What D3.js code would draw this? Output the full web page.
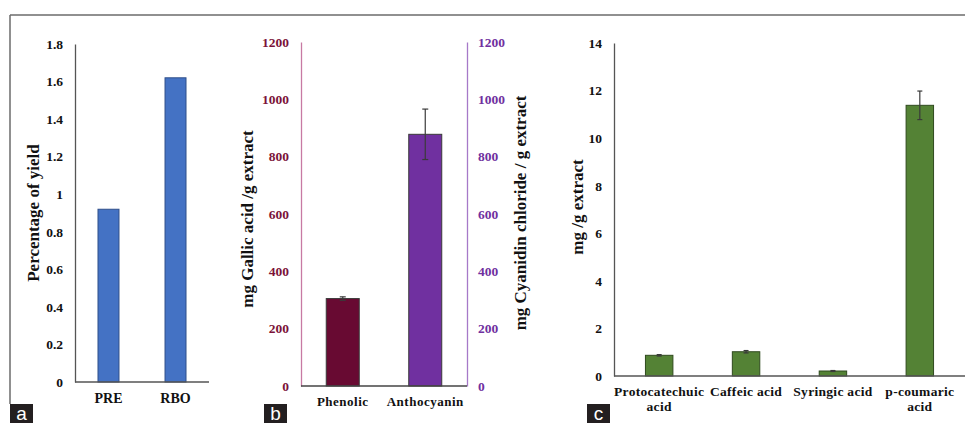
<!DOCTYPE html>
<html>
<head>
<meta charset="utf-8">
<script src="https://cdn.jsdelivr.net/npm/d3@7"></script>
<style>
  html, body { margin: 0; padding: 0; background: #fff; }
  svg { display: block; }
</style>
</head>
<body>
<svg id="chart" width="965" height="423"></svg>
<script>
// Panel a: extraction yield
const yieldCategories = ["PRE", "RBO"];
const yieldValues = [0.92, 1.62];
const yieldTicks = [0, 0.2, 0.4, 0.6, 0.8, 1, 1.2, 1.4, 1.6, 1.8];

// Panel b: total phenolic and anthocyanin content
const contentCategories = ["Phenolic", "Anthocyanin"];
const contentValues = [305, 878];
const contentErrors = [6, 88];
const contentTicks = [0, 200, 400, 600, 800, 1000, 1200];

// Panel c: phenolic acids
const acidCategories = [["Protocatechuic", "acid"], ["Caffeic acid"], ["Syringic acid"], ["p-coumaric", "acid"]];
const acidValues = [0.87, 1.02, 0.21, 11.38];
const acidErrors = [0.03, 0.05, 0.02, 0.6];
const acidTicks = [0, 2, 4, 6, 8, 10, 12, 14];

const SERIF = '"Liberation Serif", "Times New Roman", serif';
const svg = d3.select("#chart");

// serif bold text helper
function serif(sel, size) {
  return sel.style("font-family", SERIF).style("font-weight", "bold").style("font-size", size + "px");
}

// outer frame (top and left edges)
svg.append("line").attr("x1", 10).attr("x2", 965).attr("y1", 15).attr("y2", 15)
  .attr("stroke", "#6b6b6b").attr("stroke-width", 1.5);
svg.append("line").attr("x1", 10).attr("x2", 10).attr("y1", 15).attr("y2", 404)
  .attr("stroke", "#6b6b6b").attr("stroke-width", 1.5);

function yAxisLeft(g, y, ticks, fmt, color, lineColor) {
  g.call(d3.axisLeft(y).tickValues(ticks).tickFormat(fmt).tickSize(0).tickPadding(12));
  g.select(".domain").attr("stroke", lineColor).attr("stroke-width", 1.3);
  serif(g.selectAll(".tick text"), 13.5).attr("fill", color);
}

function xBaseline(g, x0, x1, yPos, color) {
  g.append("line").attr("x1", x0).attr("x2", x1).attr("y1", yPos).attr("y2", yPos)
    .attr("stroke", color).attr("stroke-width", 1.3);
}

function errorBars(g, x, y, cats, vals, errs, cap) {
  cats.forEach((c, i) => {
    const cx = x(c) + x.bandwidth() / 2;
    g.append("line").attr("x1", cx).attr("x2", cx)
      .attr("y1", y(vals[i] + errs[i])).attr("y2", y(vals[i] - errs[i]))
      .attr("stroke", "#3a3a3a").attr("stroke-width", 1.2);
    [vals[i] + errs[i], vals[i] - errs[i]].forEach(v => {
      g.append("line").attr("x1", cx - cap).attr("x2", cx + cap)
        .attr("y1", y(v)).attr("y2", y(v))
        .attr("stroke", "#3a3a3a").attr("stroke-width", 1.2);
    });
  });
}

function panelLetter(x, y, letter) {
  svg.append("rect").attr("x", x).attr("y", y).attr("width", 23).attr("height", 19).attr("fill", "#231f20");
  svg.append("text").attr("x", x + 11.5).attr("y", y + 16).attr("text-anchor", "middle")
    .attr("fill", "#fff")
    .style("font-family", '"Liberation Sans", Arial, sans-serif').style("font-size", "19px")
    .text(letter);
}

function yTitle(x, yc, label, size) {
  serif(svg.append("text"), size)
    .attr("transform", `translate(${x},${yc}) rotate(-90)`)
    .attr("text-anchor", "middle").attr("dominant-baseline", "central")
    .attr("fill", "#111").text(label);
}

// ---------- Panel a ----------
{
  const g = svg.append("g");
  const x = d3.scaleBand().domain(yieldCategories).range([75, 209]).paddingInner(0.687).paddingOuter(0.343);
  const y = d3.scaleLinear().domain([0, 1.8]).range([382, 44]);
  g.selectAll("rect.bar").data(yieldValues).join("rect").attr("class", "bar")
    .attr("x", (d, i) => x(yieldCategories[i])).attr("width", x.bandwidth())
    .attr("y", d => y(d)).attr("height", d => y(0) - y(d))
    .attr("fill", "#4472c4").attr("stroke", "#2f4f8a").attr("stroke-width", 1);
  const ax = g.append("g").attr("transform", "translate(75,0)");
  yAxisLeft(ax, y, yieldTicks, d => d3.format("~g")(d), "#111", "#555");
  xBaseline(g, 75, 209, y(0), "#555");
  serif(g.selectAll("text.cat").data(yieldCategories).join("text").attr("class", "cat"), 14)
    .attr("x", d => x(d) + x.bandwidth() / 2).attr("y", 403)
    .attr("text-anchor", "middle").attr("fill", "#111").text(d => d);
  yTitle(33, 213, "Percentage of yield", 17);
  panelLetter(10, 404, "a");
}

// ---------- Panel b ----------
{
  const g = svg.append("g");
  const x = d3.scaleBand().domain(contentCategories).range([301, 467]).paddingInner(0.6).paddingOuter(0.306);
  const y = d3.scaleLinear().domain([0, 1200]).range([386, 42]);
  const colors = ["#680a32", "#7030a0"];
  g.selectAll("rect.bar").data(contentValues).join("rect").attr("class", "bar")
    .attr("x", (d, i) => x(contentCategories[i])).attr("width", x.bandwidth())
    .attr("y", d => y(d)).attr("height", d => y(0) - y(d))
    .attr("fill", (d, i) => colors[i]).attr("stroke", "#3a3a3a").attr("stroke-width", 1);
  errorBars(g, x, y, contentCategories, contentValues, contentErrors, 3);
  const axL = g.append("g").attr("transform", "translate(301,0)");
  yAxisLeft(axL, y, contentTicks, d => d, "#7b1339", "#c77aa3");
  const axR = g.append("g").attr("transform", "translate(467,0)");
  axR.call(d3.axisRight(y).tickValues(contentTicks).tickFormat(d => d).tickSize(0).tickPadding(11));
  axR.select(".domain").attr("stroke", "#a679c8").attr("stroke-width", 1.3);
  serif(axR.selectAll(".tick text"), 13.5).attr("fill", "#7030a0");
  xBaseline(g, 301, 467, y(0), "#444");
  serif(g.selectAll("text.cat").data(contentCategories).join("text").attr("class", "cat"), 13)
    .attr("x", d => x(d) + x.bandwidth() / 2).attr("y", 406)
    .attr("text-anchor", "middle").attr("letter-spacing", 0.5)
    .attr("fill", "#111").text(d => d);
  yTitle(247, 219, "mg  Gallic  acid /g extract", 17);
  yTitle(520, 213, "mg Cyanidin  chloride  / g extract", 17);
  panelLetter(264, 404, "b");
}

// ---------- Panel c ----------
{
  const g = svg.append("g");
  const keys = acidCategories.map(c => c.join(" "));
  const x = d3.scaleBand().domain(keys).range([614, 965]).paddingInner(0.684).paddingOuter(0.362);
  const y = d3.scaleLinear().domain([0, 14]).range([376, 43]);
  g.selectAll("rect.bar").data(acidValues).join("rect").attr("class", "bar")
    .attr("x", (d, i) => x(keys[i])).attr("width", x.bandwidth())
    .attr("y", d => y(d)).attr("height", d => y(0) - y(d))
    .attr("fill", "#548235").attr("stroke", "#2f4a1e").attr("stroke-width", 1);
  errorBars(g, x, y, keys, acidValues, acidErrors, 2.5);
  const ax = g.append("g").attr("transform", "translate(614,0)");
  yAxisLeft(ax, y, acidTicks, d => d, "#111", "#555");
  xBaseline(g, 614, 965, y(0), "#555");
  acidCategories.forEach((lines, i) => {
    const t = serif(g.append("text"), 13.5).attr("text-anchor", "middle")
      .attr("letter-spacing", 0.3).attr("fill", "#111");
    lines.forEach((ln, j) => {
      t.append("tspan").attr("x", x(keys[i]) + x.bandwidth() / 2).attr("y", 396 + j * 15).text(ln);
    });
  });
  yTitle(577, 207, "mg /g extract", 17);
  panelLetter(587, 404, "c");
}
</script>
</body>
</html>
